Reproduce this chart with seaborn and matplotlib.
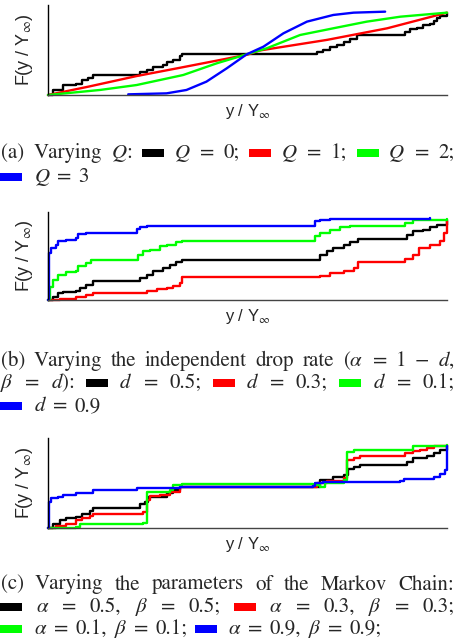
import matplotlib
matplotlib.use("Agg")
import matplotlib.pyplot as plt
import matplotlib.patches as mpatches
import seaborn as sns

# ---- data (x = y/Y_inf, y = F) ----
# (a) varying Q
a_q0_x = [0, 0.013, 0.038, 0.071, 0.084, 0.100, 0.113, 0.222, 0.230, 0.247, 0.264, 0.289, 0.297, 0.314,
          0.331, 0.335, 0.665, 0.674, 0.690, 0.707, 0.724, 0.741, 0.757, 0.774, 0.883, 0.895, 0.908,
          0.925, 0.941, 0.958, 0.967, 0.975, 0.983, 1.0]
a_q0_y = [0, 0.061, 0.121, 0.134, 0.182, 0.202, 0.243, 0.243, 0.283, 0.304, 0.344, 0.364, 0.405, 0.425,
          0.474, 0.494, 0.494, 0.526, 0.547, 0.587, 0.607, 0.648, 0.676, 0.729, 0.729, 0.769, 0.798,
          0.810, 0.850, 0.862, 0.903, 0.931, 0.960, 0.992]
a_q1_x = [0, 0.10, 0.222, 0.33, 0.50, 0.53, 0.70, 0.85, 1.0]
a_q1_y = [0, 0.10, 0.23, 0.33, 0.49, 0.54, 0.67, 0.81, 1.0]
a_q2_x = [0, 0.130, 0.222, 0.339, 0.423, 0.498, 0.548, 0.632, 0.715, 0.799, 0.883, 1.0]
a_q2_y = [0, 0.061, 0.121, 0.243, 0.385, 0.494, 0.567, 0.729, 0.810, 0.891, 0.951, 1.0]
a_q3_x = [0.201, 0.297, 0.347, 0.397, 0.448, 0.498, 0.540, 0.590, 0.649, 0.715, 0.766, 0.845]
a_q3_y = [0.008, 0.020, 0.061, 0.162, 0.324, 0.494, 0.587, 0.749, 0.891, 0.972, 1.0, 1.012]

# (b) varying the independent drop rate d
b_d05_x = [0, 0.013, 0.025, 0.038, 0.071, 0.079, 0.096, 0.113, 0.222, 0.230, 0.247, 0.264, 0.289, 0.305,
           0.322, 0.335, 0.665, 0.682, 0.699, 0.715, 0.741, 0.757, 0.778, 0.883, 0.900, 0.916, 0.941,
           0.958, 0.975, 1.0]
b_d05_y = [0, 0.041, 0.082, 0.103, 0.115, 0.144, 0.185, 0.239, 0.239, 0.267, 0.309, 0.362, 0.391, 0.432,
           0.473, 0.494, 0.494, 0.556, 0.597, 0.638, 0.679, 0.708, 0.749, 0.749, 0.802, 0.844, 0.864,
           0.897, 0.926, 0.988]
b_d03_x = [0, 0.029, 0.071, 0.096, 0.113, 0.222, 0.247, 0.272, 0.297, 0.314, 0.331, 0.335, 0.665, 0.682,
           0.707, 0.741, 0.766, 0.778, 0.883, 0.895, 0.916, 0.929, 0.958, 0.983, 0.992, 1.0]
b_d03_y = [0, 0.008, 0.033, 0.062, 0.082, 0.082, 0.115, 0.132, 0.144, 0.173, 0.206, 0.280, 0.280, 0.296,
           0.329, 0.362, 0.391, 0.473, 0.473, 0.502, 0.556, 0.638, 0.679, 0.720, 0.823, 0.967]
b_d01_x = [0, 0.004, 0.013, 0.025, 0.046, 0.071, 0.075, 0.096, 0.109, 0.222, 0.226, 0.238, 0.255, 0.280,
           0.297, 0.322, 0.335, 0.665, 0.669, 0.682, 0.707, 0.732, 0.757, 0.883, 0.895, 0.916, 1.0]
b_d01_y = [0, 0.165, 0.247, 0.309, 0.350, 0.362, 0.412, 0.453, 0.486, 0.486, 0.556, 0.597, 0.617, 0.658,
           0.679, 0.708, 0.720, 0.720, 0.782, 0.823, 0.864, 0.897, 0.914, 0.914, 0.947, 0.979, 1.0]
b_d09_x = [0, 0.0025, 0.008, 0.021, 0.025, 0.046, 0.071, 0.075, 0.096, 0.218, 0.222, 0.230, 0.247, 0.665,
           0.669, 0.682, 0.707, 0.958]
b_d09_y = [0, 0.576, 0.638, 0.679, 0.720, 0.733, 0.761, 0.811, 0.823, 0.823, 0.872, 0.893, 0.905, 0.914,
           0.967, 0.988, 0.996, 1.008]

# (c) varying the Markov chain parameters alpha, beta
c_ab05_x = [0, 0.013, 0.029, 0.046, 0.071, 0.084, 0.105, 0.113, 0.222, 0.230, 0.243, 0.251, 0.280, 0.297,
            0.314, 0.331, 0.665, 0.682, 0.715, 0.741, 0.753, 0.766, 0.782, 0.883, 0.900, 0.916, 0.950,
            0.967, 0.983, 1.0]
c_ab05_y = [0, 0.044, 0.093, 0.125, 0.133, 0.173, 0.206, 0.246, 0.246, 0.294, 0.315, 0.375, 0.375, 0.423,
            0.456, 0.496, 0.496, 0.577, 0.609, 0.637, 0.706, 0.738, 0.758, 0.758, 0.798, 0.839, 0.859,
            0.899, 0.940, 0.988]
c_ab03_x = [0, 0.021, 0.046, 0.071, 0.084, 0.105, 0.113, 0.222, 0.238, 0.247, 0.255, 0.280, 0.305, 0.331,
            0.665, 0.674, 0.699, 0.741, 0.749, 0.766, 0.782, 0.883, 0.895, 0.916, 0.933, 0.950, 0.967, 1.0]
c_ab03_y = [0, 0.020, 0.052, 0.093, 0.125, 0.141, 0.165, 0.165, 0.194, 0.335, 0.383, 0.395, 0.435, 0.496,
            0.496, 0.536, 0.569, 0.597, 0.819, 0.839, 0.859, 0.859, 0.899, 0.919, 0.940, 0.960, 0.980, 1.0]
c_ab01_x = [0, 0.071, 0.079, 0.238, 0.247, 0.247, 0.305, 0.314, 0.335, 0.665, 0.682, 0.695, 0.741, 0.749,
            0.766, 0.916, 0.916, 1.0]
c_ab01_y = [0, 0.012, 0.052, 0.060, 0.133, 0.435, 0.456, 0.516, 0.524, 0.516, 0.496, 0.536, 0.577, 0.907,
            0.931, 0.940, 0.988, 1.0]
c_ab09_x = [0, 0.0025, 0.008, 0.025, 0.038, 0.071, 0.113, 0.222, 0.331, 0.665, 0.669, 0.690, 0.883, 0.891,
            0.967, 0.983, 0.996, 1.0]
c_ab09_y = [0, 0.315, 0.355, 0.367, 0.395, 0.423, 0.456, 0.476, 0.496, 0.504, 0.544, 0.556, 0.565, 0.585,
            0.617, 0.649, 0.698, 0.980]

panel_series = [
    [(a_q0_x, a_q0_y, "k", True), (a_q1_x, a_q1_y, "r", False),
     (a_q2_x, a_q2_y, "g", False), (a_q3_x, a_q3_y, "b", False)],
    [(b_d05_x, b_d05_y, "k", True), (b_d03_x, b_d03_y, "r", True),
     (b_d01_x, b_d01_y, "g", True), (b_d09_x, b_d09_y, "b", True)],
    [(c_ab05_x, c_ab05_y, "k", True), (c_ab03_x, c_ab03_y, "r", True),
     (c_ab01_x, c_ab01_y, "g", True), (c_ab09_x, c_ab09_y, "b", True)],
]
y_tops = [1.093, 1.082, 1.08]

# caption tokens; single letters are colour swatches
captions = [
    [(["(a)", "Varying", "$Q$:", "k", "$Q$", "=", "0;", "r", "$Q$", "=", "1;", "g", "$Q$", "=", "2;"], True),
     (["b", "$Q$", "=", "3"], False)],
    [(["(b)", "Varying", "the", "independent", "drop", "rate", r"($\alpha$", "=", "1", "\u2212", "$d$,"], True),
     ([r"$\beta$", "=", "$d$):", "k", "$d$", "=", "0.5;", "r", "$d$", "=", "0.3;", "g", "$d$", "=", "0.1;"], True),
     (["b", "$d$", "=", "0.9"], False)],
    [(["(c)", "Varying", "the", "parameters", "of", "the", "Markov", "Chain:"], True),
     (["k", r"$\alpha$", "=", "0.5,", r"$\beta$", "=", "0.5;", "r", r"$\alpha$", "=", "0.3,", r"$\beta$", "=", "0.3;"], True),
     (["g", r"$\alpha$", "=", "0.1,", r"$\beta$", "=", "0.1;", "b", r"$\alpha$", "=", "0.9,", r"$\beta$", "=", "0.9;"], False)],
]

COLORS = {"k": "black", "r": "#ff0000", "g": "#00ff00", "b": "#0000ff"}

sns.set_style("white")
plt.rcParams["mathtext.fontset"] = "stix"
plt.rcParams["font.family"] = ["Liberation Sans", "DejaVu Sans"]

W, H = 456, 643
fig = plt.figure(figsize=(W / 100, H / 100), dpi=100)

# axes boxes in pixels: top, bottom
boxes = [(5, 95), (212, 300), (438, 528)]
left_px, right_px = 48, 447
for (top, bot), series, ytop in zip(boxes, panel_series, y_tops):
    ax = fig.add_axes([left_px / W, 1 - bot / H, (right_px - left_px) / W, (bot - top) / H])
    for xs, ys, c, step in series:
        sns.lineplot(x=xs, y=ys, ax=ax, color=COLORS[c], sort=False, estimator=None,
                     lw=1.7, drawstyle="steps-post" if step else "default", clip_on=False)
    ax.set_xlim(0, 1)
    ax.set_ylim(0, ytop)
    ax.set_xticks([])
    ax.set_yticks([])
    sns.despine(ax=ax)
    ax.spines["left"].set_color("black")
    ax.spines["bottom"].set_color("#444444")
    ax.spines["left"].set_linewidth(1.0)
    ax.spines["bottom"].set_linewidth(1.0)
    ax.set_ylabel(r"F(y / Y$_\infty$)", fontsize=13, labelpad=9)
    ax.set_xlabel(r"y / Y$_\infty$", fontsize=12, labelpad=5)

# captions, justified like the LaTeX source
renderer = fig.canvas.get_renderer()
baselines = [[158, 182], [366, 388, 411], [589.5, 612, 633.5]]
FS = 15
SW_W, SW_H = 22, 8
x0, x1 = 0.5, 454.5
for lines, ys in zip(captions, baselines):
    for (tokens, justify), yb in zip(lines, ys):
        items = []
        for tok in tokens:
            if tok in COLORS:
                items.append((tok, None, SW_W))
            else:
                t = fig.text(0, 1 - yb / H, tok, fontsize=FS, family="STIXGeneral", va="baseline", ha="left")
                items.append((tok, t, t.get_window_extent(renderer).width))
        total = sum(w for _, _, w in items)
        gap = (x1 - x0 - total) / (len(items) - 1) if justify else 7.0
        x = x0
        for tok, t, w in items:
            if t is None:
                fig.add_artist(mpatches.Rectangle((x / W, 1 - (yb - 1) / H), SW_W / W, SW_H / H,
                                                  transform=fig.transFigure, color=COLORS[tok], lw=0))
                x += w + gap + (0 if justify else 4)
            else:
                t.set_x(x / W)
                x += w + gap

fig.savefig("out.png", dpi=100)
